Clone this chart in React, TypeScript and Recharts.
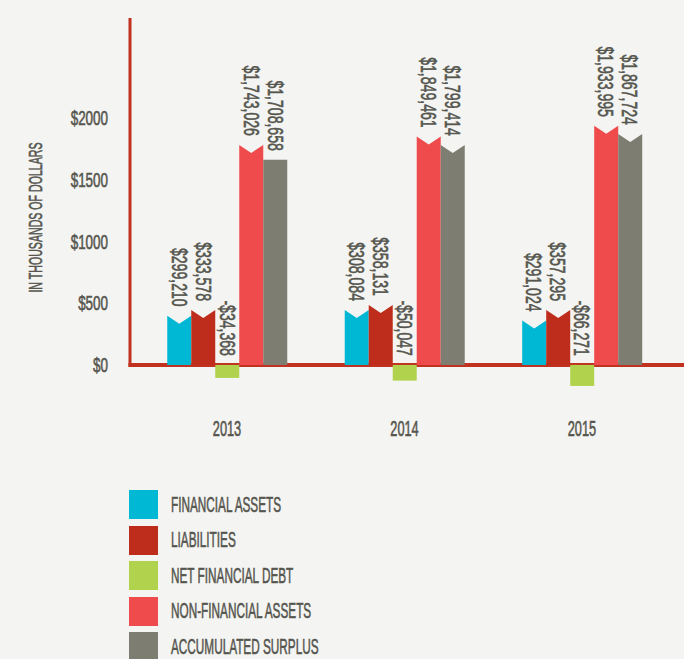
import React from 'react';
import { BarChart, Bar, XAxis, YAxis, ReferenceArea, Legend, LabelList } from 'recharts';

const FONT = "'Liberation Sans', Arial, sans-serif";
const TEXT = '#56564f';
const AXIS = '#c0311f';
const BG = '#f4f4f2';
const STROKE = 0.6;

// ---- data ----
const years = [2013, 2014, 2015];
const financialAssets = [399, 445, 359];
const liabilities = [445, 486, 445];
const netFinancialDebt = [-105, -127, -170];
const nonFinancialAssets = [1781, 1848, 1935];
const accumulatedSurplus = [1660, 1781, 1870];

const financialAssetsLabels = ['$299,210', '$308,084', '$291,024'];
const liabilitiesLabels = ['$333,578', '$358,131', '$357,295'];
const netFinancialDebtLabels = ['-$34,368', '-$50,047', '-$66,271'];
const nonFinancialAssetsLabels = ['$1,743,026', '$1,849,461', '$1,933,995'];
const accumulatedSurplusLabels = ['$1,708,658', '$1,799,414', '$1,867,724'];

const yTicks = [0, 500, 1000, 1500, 2000];
const yTickLabels = ['$0', '$500', '$1000', '$1500', '$2000'];
const yTitle = 'IN THOUSANDS OF DOLLARS';

const seriesDefs = [
  { key: 'financialAssets', name: 'FINANCIAL ASSETS', color: '#00b8d4', values: financialAssets, labels: financialAssetsLabels },
  { key: 'liabilities', name: 'LIABILITIES', color: '#be2d1b', values: liabilities, labels: liabilitiesLabels },
  { key: 'netFinancialDebt', name: 'NET FINANCIAL DEBT', color: '#b0d24d', values: netFinancialDebt, labels: netFinancialDebtLabels },
  { key: 'nonFinancialAssets', name: 'NON-FINANCIAL ASSETS', color: '#f04b4c', values: nonFinancialAssets, labels: nonFinancialAssetsLabels },
  { key: 'accumulatedSurplus', name: 'ACCUMULATED SURPLUS', color: '#7e7d71', values: accumulatedSurplus, labels: accumulatedSurplusLabels },
];

// bars drawn with a flat top instead of the chevron notch
const flatTop: Record<string, number[]> = { accumulatedSurplus: [0] };

const data = years.map((year, i) => {
  const row: any = { year };
  seriesDefs.forEach((s) => {
    row[s.key] = s.values[i];
    row[s.key + 'Label'] = s.labels[i];
  });
  return row;
});

const makeShape = (key: string) => (p: any) => {
  const { x, y, width, height, fill } = p;
  const idx = typeof p.index === 'number' ? p.index : years.indexOf(p.payload?.year);
  const top = Math.min(y, y + height);
  const h = Math.abs(height);
  const v = p.payload?.[key] ?? 0;
  const notch = v > 0 && !(flatTop[key] || []).includes(idx) ? 8 : 0;
  const d = `M${x},${top} L${x + width / 2},${top + notch} L${x + width},${top} L${x + width},${top + h} L${x},${top + h} Z`;
  return <path d={d} fill={fill} />;
};

const txt = (size: number) => ({
  fontFamily: FONT,
  fontSize: size,
  fill: TEXT,
  stroke: TEXT,
  strokeWidth: STROKE,
});

const renderValueLabel = (p: any) => {
  const vb = p.viewBox ?? {};
  const x = vb.x ?? p.x;
  const y = vb.y ?? p.y;
  const w = vb.width ?? p.width;
  const h = vb.height ?? p.height;
  const top = Math.min(y, y + h);
  return (
    <g transform={`translate(${x + w / 2},${top - 9}) rotate(90) scale(0.64,1)`}>
      <text x={0} y={0} textAnchor="end" dominantBaseline="central" {...txt(22)}>
        {p.value}
      </text>
    </g>
  );
};

const YearTick = (p: any) => (
  <g transform={`translate(${p.x},${p.y}) scale(0.58,1)`}>
    <text x={0} y={0} textAnchor="middle" dominantBaseline="central" {...txt(22)}>
      {p.payload.value}
    </text>
  </g>
);

const ValueTick = (p: any) => {
  const i = yTicks.indexOf(p.payload.value);
  return (
    <g transform={`translate(${p.x},${p.y}) scale(0.64,1)`}>
      <text x={0} y={0} textAnchor="end" dominantBaseline="central" {...txt(21)}>
        {i >= 0 ? yTickLabels[i] : ''}
      </text>
    </g>
  );
};

const YTitle = (p: any) => {
  const vb = p.viewBox ?? { x: 0, y: 19, width: 130, height: 383 };
  const cx = vb.x + 36;
  const cy = vb.y + vb.height / 2 + 7;
  return (
    <g transform={`translate(${cx},${cy}) rotate(-90) scale(0.59,1)`}>
      <text x={0} y={0} textAnchor="middle" dominantBaseline="central" {...txt(18)}>
        {yTitle}
      </text>
    </g>
  );
};

const AxisFrame = (p: any) => {
  const { x, y, width, height } = p;
  return (
    <g>
      <line x1={x} y1={y - 1} x2={x} y2={y + height + 2} stroke={AXIS} strokeWidth={3} />
      <line x1={x - 1.5} y1={y + height} x2={x + width} y2={y + height} stroke={AXIS} strokeWidth={4} />
    </g>
  );
};

const LegendContent = () => (
  <div style={{ display: 'flex', flexDirection: 'column' }}>
    {seriesDefs.map((s) => (
      <div key={s.key} style={{ display: 'flex', alignItems: 'center', height: 29, marginBottom: 6.5 }}>
        <div style={{ width: 29, height: 29, background: s.color, flex: 'none' }} />
        <span
          style={{
            marginLeft: 13,
            fontFamily: FONT,
            fontSize: 22,
            lineHeight: '22px',
            color: TEXT,
            WebkitTextStroke: `${STROKE}px ${TEXT}`,
            whiteSpace: 'nowrap',
            display: 'inline-block',
            transform: 'scaleX(0.535)',
            transformOrigin: 'left center',
          }}
        >
          {s.name}
        </span>
      </div>
    ))}
  </div>
);

export default function App() {
  return (
    <div style={{ position: 'absolute', left: 0, top: 0, width: 684, height: 659, background: BG, overflow: 'hidden' }}>
      <BarChart
        width={684}
        height={659}
        data={data}
        margin={{ top: 19, right: 0, bottom: 227, left: 0 }}
        barGap={0}
        barSize={24}
      >
        <XAxis
          dataKey="year"
          type="number"
          domain={[2012.4535, 2015.575]}
          ticks={years}
          interval={0}
          axisLine={false}
          tickLine={false}
          tickSize={0}
          tickMargin={27}
          height={30}
          tick={YearTick}
        />
        <YAxis
          type="number"
          domain={[-300, 2800]}
          ticks={yTicks}
          interval={0}
          width={130}
          axisLine={false}
          tickLine={false}
          tickSize={0}
          tickMargin={22}
          tick={ValueTick}
          label={YTitle}
        />
        {seriesDefs.map((s) => (
          <Bar key={s.key} dataKey={s.key} name={s.name} fill={s.color} isAnimationActive={false} shape={makeShape(s.key)}>
            <LabelList dataKey={s.key + 'Label'} content={renderValueLabel} />
          </Bar>
        ))}
        <ReferenceArea y1={0} y2={2800} fill="none" shape={AxisFrame} />
        <Legend
          layout="vertical"
          verticalAlign="middle"
          align="center"
          wrapperStyle={{ position: 'absolute', left: 129, top: 490, width: 320, height: 175 }}
          content={LegendContent}
        />
      </BarChart>
    </div>
  );
}
